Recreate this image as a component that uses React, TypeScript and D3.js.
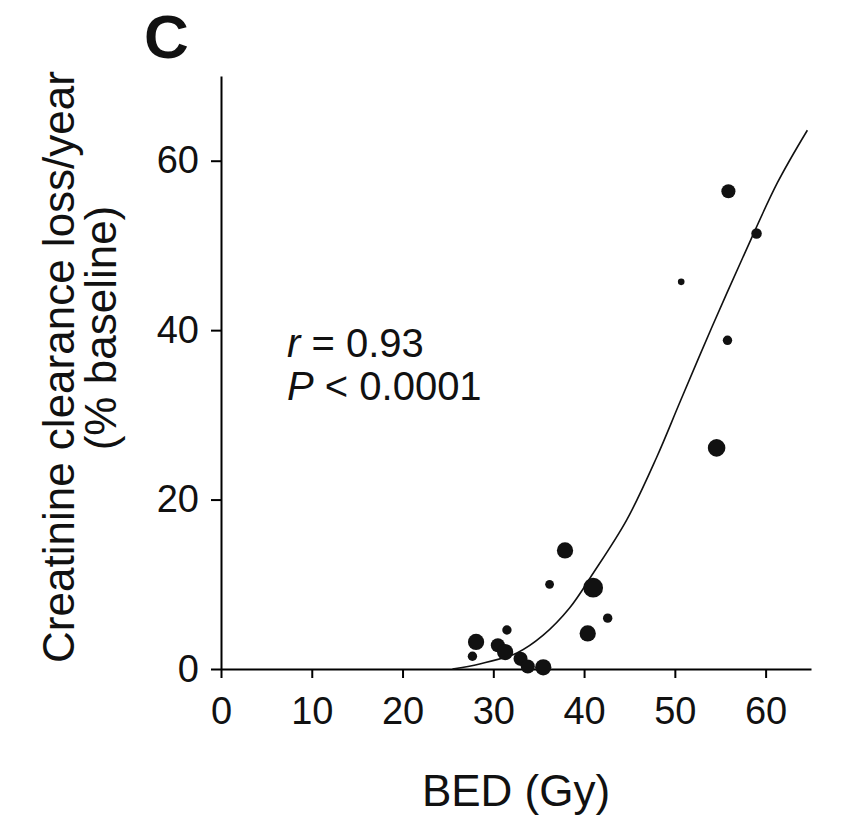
import React, { useEffect, useRef } from 'react';
import * as d3 from 'd3';

// BED (Gy) vs creatinine clearance loss per year, one entry per patient
const bedValues = [55.9, 59.0, 50.7, 55.8, 54.6, 37.9, 36.2, 31.5, 28.1, 27.7, 30.5, 31.3, 33.0, 33.8, 35.5, 41.0, 42.6, 40.4];
const lossValues = [56.4, 51.4, 45.7, 38.8, 26.1, 14.0, 10.0, 4.6, 3.2, 1.5, 2.8, 2.0, 1.2, 0.3, 0.2, 9.6, 6.0, 4.2];
// relative marker weight (bubble area)
const weights = [36, 20, 8, 16, 56, 48, 14, 16, 48, 16, 36, 48, 36, 36, 48, 71, 16, 48];

// fitted curve
const fitBed = [25.5, 28.5, 32.6, 35.5, 38.4, 41.0, 44.7, 48.0, 50.6, 54.1, 57.5, 61.3, 64.6];
const fitLoss = [0, 0.6, 1.9, 4.0, 7.2, 11.3, 17.6, 25.0, 31.6, 40.4, 48.6, 57.4, 63.6];

const xTicks = [0, 10, 20, 30, 40, 50, 60];
const yTicks = [0, 20, 40, 60];

const FONT = '"Liberation Sans", Arial, Helvetica, sans-serif';

const App = () => {
    const svgRef = useRef<SVGSVGElement>(null);

    useEffect(() => {
        const svg = d3.select(svgRef.current);
        svg.selectAll('*').remove();

        const x = d3.scaleLinear().domain([0, 65]).range([221, 811]);
        const y = d3.scaleLinear().domain([0, 70]).range([669, 76]);
        const r = d3.scaleSqrt().domain([0, 80]).range([0, 10.5]);

        // x axis
        const xAxis = svg.append('g')
            .attr('transform', `translate(0,${y(0)})`)
            .call(d3.axisBottom(x).tickValues(xTicks).tickSize(9).tickPadding(19).tickSizeOuter(0));
        xAxis.select('.domain').attr('stroke', '#000').attr('stroke-width', 2);
        xAxis.selectAll('.tick line').attr('stroke', '#000').attr('stroke-width', 2);
        xAxis.selectAll('.tick text')
            .attr('fill', '#111')
            .style('font-family', FONT)
            .style('font-size', '38px');

        // y axis
        const yAxis = svg.append('g')
            .attr('transform', `translate(${x(0)},0)`)
            .call(d3.axisLeft(y).tickValues(yTicks).tickSize(10).tickPadding(12).tickSizeOuter(0));
        yAxis.select('.domain').attr('stroke', '#000').attr('stroke-width', 2);
        yAxis.selectAll('.tick line').attr('stroke', '#000').attr('stroke-width', 2);
        yAxis.selectAll('.tick text')
            .attr('fill', '#111')
            .style('font-family', FONT)
            .style('font-size', '38px');

        // fitted curve
        const line = d3.line<number>()
            .x(d => x(d))
            .y((d, i) => y(fitLoss[i]))
            .curve(d3.curveCatmullRom.alpha(0.5));

        svg.append('path')
            .datum(fitBed)
            .attr('fill', 'none')
            .attr('stroke', '#111')
            .attr('stroke-width', 1.6)
            .attr('d', line);

        // points
        svg.selectAll('.dot')
            .data(bedValues)
            .enter()
            .append('circle')
            .attr('class', 'dot')
            .attr('cx', d => x(d))
            .attr('cy', (d, i) => y(lossValues[i]))
            .attr('r', (d, i) => r(weights[i]))
            .attr('fill', '#111');

        // panel letter
        svg.append('text')
            .attr('x', 144)
            .attr('y', 58)
            .style('font-family', FONT)
            .style('font-weight', 'bold')
            .style('font-size', '62px')
            .attr('fill', '#111')
            .text('C');

        // y label
        svg.append('text')
            .attr('transform', 'translate(74,367) rotate(-90)')
            .attr('text-anchor', 'middle')
            .style('font-family', FONT)
            .style('font-size', '44px')
            .attr('fill', '#111')
            .text('Creatinine clearance loss/year');

        svg.append('text')
            .attr('transform', 'translate(116,328) rotate(-90)')
            .attr('text-anchor', 'middle')
            .style('font-family', FONT)
            .style('font-size', '44px')
            .attr('fill', '#111')
            .text('(% baseline)');

        // x label
        svg.append('text')
            .attr('x', 516)
            .attr('y', 806)
            .attr('text-anchor', 'middle')
            .style('font-family', FONT)
            .style('font-size', '44px')
            .attr('fill', '#111')
            .text('BED (Gy)');

        // stats
        const stats = svg.append('text')
            .style('font-family', FONT)
            .style('font-size', '40px')
            .attr('fill', '#111');
        const l1 = stats.append('tspan').attr('x', 287).attr('y', 357);
        l1.append('tspan').style('font-style', 'italic').text('r');
        l1.append('tspan').text(' = 0.93');
        const l2 = stats.append('tspan').attr('x', 287).attr('y', 400);
        l2.append('tspan').style('font-style', 'italic').text('P');
        l2.append('tspan').text(' < 0.0001');
    }, []);

    return (
        <svg ref={svgRef} width={860} height={828} style={{ position: 'absolute', left: 0, top: 0, background: '#fff' }} />
    );
};

export default App;
